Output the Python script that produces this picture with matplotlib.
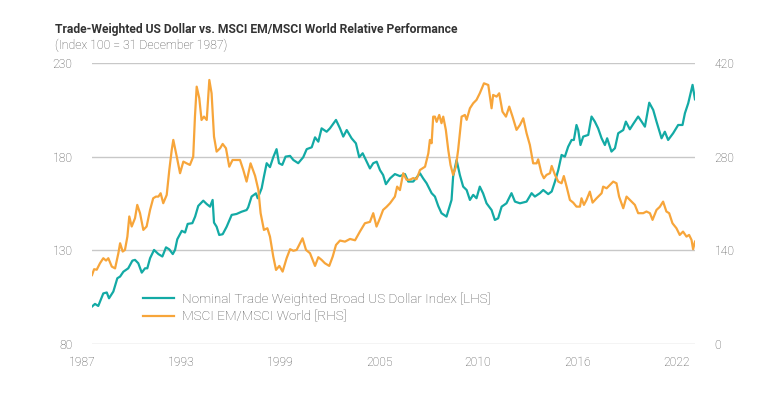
import matplotlib.pyplot as plt
from matplotlib.lines import Line2D
import matplotlib.transforms as mtransforms

plt.rcParams['font.family'] = ['Roboto', 'DejaVu Sans']

# Nominal Trade Weighted Broad US Dollar Index (LHS)
usd_t = [1988.0, 1988.17, 1988.36, 1988.65, 1988.85, 1988.98, 1989.23, 1989.46, 1989.62, 1989.81,
         1990.09, 1990.33, 1990.48, 1990.67, 1990.87, 1991.06, 1991.19, 1991.35, 1991.58, 1991.83,
         1992.06, 1992.27, 1992.46, 1992.66, 1992.79, 1992.92, 1993.18, 1993.37, 1993.52, 1993.79,
         1993.95, 1994.13, 1994.42, 1994.62, 1994.81, 1994.96, 1995.04, 1995.19, 1995.34, 1995.54,
         1995.77, 1996.06, 1996.34, 1996.63, 1996.92, 1997.01, 1997.21, 1997.46, 1997.56, 1997.79,
         1997.92, 1998.08, 1998.27, 1998.46, 1998.65, 1998.79, 1998.98, 1999.17, 1999.43, 1999.62,
         1999.90, 2000.19, 2000.39, 2000.68, 2000.87, 2001.06, 2001.25, 2001.54, 2001.73, 2002.08,
         2002.31, 2002.50, 2002.70, 2002.98, 2003.23, 2003.42, 2003.62, 2003.85, 2004.04, 2004.23,
         2004.43, 2004.62, 2004.80, 2004.96, 2005.20, 2005.48, 2005.77, 2006.06, 2006.25, 2006.54,
         2006.93, 2007.11, 2007.31, 2007.60, 2007.79, 2007.98, 2008.17, 2008.46, 2008.75, 2008.84,
         2009.04, 2009.23, 2009.42, 2009.62, 2009.81, 2010.00, 2010.19, 2010.38, 2010.57, 2010.77,
         2011.06, 2011.25, 2011.44, 2011.64, 2011.92, 2012.21, 2012.41, 2012.70, 2013.08, 2013.37,
         2013.56, 2013.85, 2014.04, 2014.33, 2014.53, 2014.72, 2014.91, 2015.10, 2015.29, 2015.48,
         2015.68, 2015.81, 2015.96, 2016.06, 2016.19, 2016.35, 2016.64, 2016.83, 2017.02, 2017.21,
         2017.41, 2017.60, 2017.73, 2017.98, 2018.18, 2018.37, 2018.66, 2018.81, 2019.04, 2019.24,
         2019.52, 2019.72, 2019.91, 2020.16, 2020.39, 2020.58, 2020.87, 2021.06, 2021.25, 2021.54,
         2021.83, 2022.08, 2022.22, 2022.41, 2022.66, 2022.80]
usd_v = [100.0, 101.4, 100.3, 107.0, 107.5, 104.4, 108.0, 115.1, 116.0, 118.6,
         120.4, 124.5, 124.9, 123.1, 118.1, 120.4, 120.4, 125.8, 130.2, 128.0,
         126.7, 131.6, 130.5, 128.0, 130.2, 135.9, 140.4, 139.5, 144.1, 144.5,
         148.0, 153.7, 156.5, 154.7, 153.3, 156.9, 144.8, 142.6, 138.2, 138.6,
         142.6, 148.9, 149.4, 150.6, 151.5, 152.9, 158.7, 160.4, 157.8, 163.1,
         169.3, 176.5, 174.4, 179.7, 184.0, 176.5, 175.6, 180.0, 180.4, 178.2,
         176.5, 179.7, 184.0, 185.0, 190.3, 188.0, 195.1, 193.3, 195.1, 199.6,
         195.1, 190.7, 194.2, 189.8, 187.1, 179.7, 181.8, 177.3, 173.7, 176.5,
         177.3, 172.8, 170.2, 165.3, 168.4, 170.7, 169.6, 170.7, 166.7, 166.7,
         171.1, 168.4, 165.8, 160.5, 158.7, 153.7, 149.8, 148.0, 156.9, 169.3,
         178.2, 170.2, 164.0, 162.2, 156.9, 159.6, 157.8, 164.0, 160.4, 155.1,
         151.5, 146.2, 147.1, 153.3, 155.1, 160.5, 156.0, 155.1, 156.0, 160.5,
         158.7, 160.5, 162.2, 160.0, 161.4, 166.7, 172.9, 180.9, 180.0, 185.3,
         188.9, 188.9, 196.9, 194.2, 186.2, 190.7, 191.6, 201.4, 198.7, 195.1,
         189.8, 186.2, 189.8, 182.7, 184.5, 192.5, 194.2, 198.7, 194.6, 197.5,
         201.4, 198.7, 196.0, 208.8, 204.9, 198.7, 189.8, 193.3, 188.9, 192.5,
         196.9, 196.9, 203.2, 208.5, 218.3, 210.6]

# MSCI EM / MSCI World (RHS)
em_t = [1988.0, 1988.12, 1988.27, 1988.46, 1988.65, 1988.81, 1988.94, 1989.14, 1989.33, 1989.52,
        1989.62, 1989.77, 1989.90, 1990.04, 1990.15, 1990.29, 1990.48, 1990.61, 1990.77, 1990.96,
        1991.15, 1991.35, 1991.53, 1991.69, 1991.83, 1991.96, 1992.11, 1992.31, 1992.46, 1992.60,
        1992.69, 1992.89, 1993.08, 1993.27, 1993.46, 1993.65, 1993.84, 1993.94, 1994.04, 1994.19,
        1994.32, 1994.46, 1994.62, 1994.77, 1994.90, 1995.04, 1995.19, 1995.39, 1995.54, 1995.73,
        1995.92, 1996.11, 1996.34, 1996.54, 1996.73, 1996.92, 1997.15, 1997.41, 1997.60, 1997.73,
        1997.92, 1998.12, 1998.27, 1998.46, 1998.62, 1998.81, 1999.00, 1999.23, 1999.43, 1999.62,
        1999.81, 2000.15, 2000.35, 2000.58, 2000.87, 2001.06, 2001.25, 2001.44, 2001.69, 2001.89,
        2002.08, 2002.31, 2002.60, 2002.89, 2003.18, 2003.46, 2003.75, 2004.04, 2004.23, 2004.42,
        2004.62, 2004.80, 2005.00, 2005.20, 2005.48, 2005.61, 2005.77, 2005.96, 2006.15, 2006.35,
        2006.54, 2006.73, 2006.93, 2007.22, 2007.41, 2007.50, 2007.60, 2007.69, 2007.79, 2007.89,
        2008.04, 2008.17, 2008.27, 2008.42, 2008.56, 2008.69, 2008.84, 2009.00, 2009.13, 2009.33,
        2009.52, 2009.62, 2009.81, 2010.00, 2010.19, 2010.38, 2010.62, 2010.87, 2011.06, 2011.15,
        2011.35, 2011.50, 2011.69, 2011.89, 2012.08, 2012.27, 2012.50, 2012.70, 2012.89, 2013.08,
        2013.27, 2013.46, 2013.66, 2013.75, 2013.94, 2014.08, 2014.23, 2014.43, 2014.53, 2014.72,
        2014.91, 2015.10, 2015.23, 2015.39, 2015.58, 2015.77, 2015.96, 2016.16, 2016.25, 2016.39,
        2016.54, 2016.73, 2016.89, 2017.12, 2017.41, 2017.50, 2017.70, 2017.89, 2018.08, 2018.27,
        2018.42, 2018.66, 2018.85, 2019.04, 2019.33, 2019.52, 2019.81, 2020.00, 2020.20, 2020.35,
        2020.58, 2020.77, 2020.96, 2021.15, 2021.31, 2021.50, 2021.73, 2021.92, 2022.11, 2022.31,
        2022.46, 2022.60, 2022.69, 2022.80]
em_v = [103.0, 111.8, 111.0, 120.7, 128.2, 124.7, 128.2, 115.7, 113.0, 135.7,
        150.6, 138.2, 140.6, 160.5, 190.6, 175.6, 188.0, 207.9, 195.5, 170.5,
        175.6, 200.4, 217.8, 220.3, 220.3, 225.3, 210.4, 222.8, 260.1, 290.0,
        305.0, 280.0, 255.2, 272.6, 270.0, 267.6, 280.0, 339.8, 384.6, 367.3,
        334.8, 339.8, 334.8, 394.6, 374.7, 310.0, 287.5, 292.5, 299.0, 292.5,
        265.0, 275.0, 275.0, 275.0, 260.1, 242.7, 270.0, 251.4, 230.3, 195.5,
        170.5, 173.0, 160.5, 130.6, 110.7, 116.7, 108.2, 128.2, 141.7, 139.3,
        140.6, 158.0, 140.6, 135.7, 116.7, 129.7, 125.7, 120.7, 116.7, 130.6,
        148.0, 154.6, 153.0, 157.0, 155.0, 168.0, 180.5, 182.5, 195.5, 175.5,
        188.0, 200.4, 205.0, 210.4, 220.3, 235.2, 230.0, 255.2, 245.5, 245.5,
        248.0, 246.3, 260.1, 265.0, 285.0, 305.0, 300.0, 339.8, 339.8, 332.0,
        342.3, 330.0, 339.8, 320.0, 290.0, 267.6, 252.7, 265.0, 290.0, 339.8,
        342.3, 335.0, 352.3, 359.8, 364.8, 374.7, 389.6, 387.1, 352.3, 372.2,
        369.7, 374.7, 347.2, 339.8, 354.8, 339.8, 320.0, 327.4, 337.3, 315.0,
        297.5, 270.0, 270.0, 276.0, 255.2, 247.7, 252.7, 255.2, 266.1, 252.7,
        242.7, 240.2, 251.0, 235.2, 215.3, 211.3, 205.3, 205.3, 217.8, 207.9,
        215.3, 227.7, 211.3, 217.8, 225.3, 235.2, 232.7, 237.7, 242.7, 240.2,
        220.3, 202.9, 220.3, 215.3, 207.9, 195.5, 195.5, 198.0, 195.5, 185.5,
        200.4, 205.0, 212.8, 198.0, 195.5, 180.5, 173.0, 163.0, 168.0, 160.5,
        163.0, 155.6, 141.7, 153.0]

year_labels = ['1987', '1993', '1999', '2005', '2010', '2016', '2022']
year_label_pos = [1987.42, 1993.14, 1998.85, 2004.62, 2010.27, 2016.04, 2021.75]
lhs_ticks = [80, 130, 180, 230]
rhs_ticks = [0, 140, 280, 420]

teal = '#13aaa5'
orange = '#f7a53a'
grey_txt = '#505050'

fig = plt.figure(figsize=(7.76, 3.96), dpi=100)
ax1 = fig.add_axes([0.1186, 0.1313, 0.777, 0.7097])
ax2 = ax1.twinx()

ax1.plot(usd_t, usd_v, color=teal, lw=1.6)
ax2.plot(em_t, em_v, color=orange, lw=1.6)

ax1.set_xlim(1988.0, 2022.8)
ax1.set_ylim(80, 230)
ax2.set_ylim(0, 420)
ax1.set_yticks(lhs_ticks)
ax2.set_yticks(rhs_ticks)
ax1.set_xticks([])
ax1.grid(axis='y', color='#c8c8c8', lw=1)
ax1.set_axisbelow(True)

for ax in (ax1, ax2):
    for s in ax.spines.values():
        s.set_visible(False)
    ax.tick_params(axis='y', length=0, labelsize=8.7, labelcolor=grey_txt, pad=14)
    for t in ax.get_yticklabels():
        t.set_fontweight('light')

trans = mtransforms.blended_transform_factory(ax1.transData, ax1.transAxes)
for lab, pos in zip(year_labels, year_label_pos):
    ax1.text(pos, -0.065, lab, transform=trans, ha='center', va='center',
             fontsize=8.7, fontweight='light', color=grey_txt, clip_on=False)

fig.text(0.071, 0.925, 'Trade-Weighted US Dollar vs. MSCI EM/MSCI World Relative Performance',
         fontsize=8.7, fontweight='bold', color='#333333', ha='left', va='center')
fig.text(0.071, 0.885, '(Index 100 = 31 December 1987)',
         fontsize=8.8, fontweight='light', color=grey_txt, ha='left', va='center')

handles = [Line2D([], [], color=teal, lw=1.6), Line2D([], [], color=orange, lw=1.6)]
labels = ['Nominal Trade Weighted Broad US Dollar Index [LHS]', 'MSCI EM/MSCI World [RHS]']
leg = fig.legend(handles, labels, loc='upper left', bbox_to_anchor=(0.184, 0.262),
                 frameon=False, handlelength=2.3, handletextpad=0.6,
                 borderpad=0, borderaxespad=0, labelspacing=0.32,
                 prop={'size': 9.7, 'weight': 'light'})
for t in leg.get_texts():
    t.set_color(grey_txt)

fig.savefig('out.png', dpi=100)
